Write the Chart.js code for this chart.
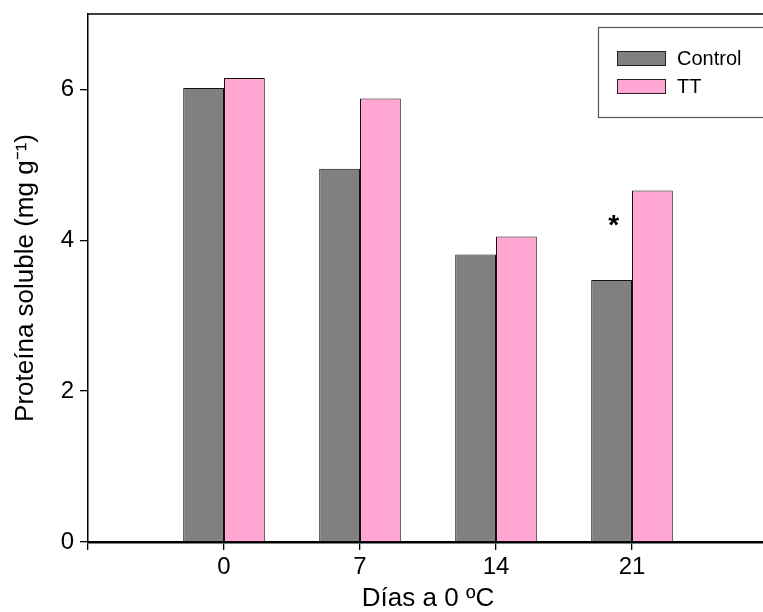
<!DOCTYPE html>
<html>
<head>
<meta charset="utf-8">
<script src="https://cdn.jsdelivr.net/npm/chart.js@4/dist/chart.umd.min.js"></script>
<style>
    html, body { margin: 0; padding: 0; background: #fff; overflow: hidden; }
    #wrap { position: relative; width: 770px; height: 612px; }
</style>
</head>
<body>
<div id="wrap"><canvas id="chart"></canvas></div>
<script>
// days of cold storage and soluble protein per treatment
const dias = [0, 7, 14, 21];
const control = [6.02, 4.95, 3.81, 3.475];
const tt = [6.15, 5.88, 4.05, 4.66];
const signif = ['', '', '', '*'];
const yTicks = [0, 2, 4, 6];
const xTickLabels = ['0', '7', '14', '21'];

const FONT = "'Liberation Sans', Arial, sans-serif";

// frame line on top + legend box + significance marks
const extras = {
    id: 'extras',
    afterDraw(chart) {
        const ctx = chart.ctx;
        const area = chart.chartArea;
        ctx.save();
        ctx.strokeStyle = '#000';
        ctx.lineWidth = 1.5;
        ctx.beginPath();
        ctx.moveTo(area.left, area.top);
        ctx.lineTo(area.right, area.top);
        ctx.lineTo(area.right, area.bottom);
        ctx.stroke();

        // legend
        ctx.strokeStyle = '#555';
        ctx.lineWidth = 1.2;
        ctx.strokeRect(598.5, 27.5, 200, 90);
        chart.data.datasets.forEach((ds, i) => {
            const y = 51 + i * 28;
            ctx.fillStyle = ds.backgroundColor;
            ctx.fillRect(617, y, 49, 15);
            ctx.strokeStyle = '#222';
            ctx.lineWidth = 1;
            ctx.strokeRect(617.5, y + 0.5, 48, 14);
            ctx.fillStyle = '#000';
            ctx.font = '20px ' + FONT;
            ctx.textBaseline = 'middle';
            ctx.textAlign = 'left';
            ctx.fillText(ds.label, 677, y + 8);
        });

        // asterisks over the control bars
        const meta = chart.getDatasetMeta(0);
        ctx.font = 'bold 28px ' + FONT;
        ctx.textAlign = 'center';
        ctx.textBaseline = 'alphabetic';
        signif.forEach((s, i) => {
            if (!s) return;
            const bar = meta.data[i];
            ctx.fillText(s, bar.x + 2, bar.y - 46);
        });
        ctx.restore();
    }
};

new Chart(document.getElementById('chart'), {
    type: 'bar',
    data: {
        datasets: [
            {
                label: 'Control',
                data: dias.map((d, i) => ({ x: d, y: control[i] })),
                backgroundColor: '#808080',
                borderColor: '#111',
                borderWidth: 1
            },
            {
                label: 'TT',
                data: dias.map((d, i) => ({ x: d, y: tt[i] })),
                backgroundColor: '#FFA6D2',
                borderColor: '#111',
                borderWidth: 1
            }
        ]
    },
    options: {
        responsive: true,
        maintainAspectRatio: false,
        animation: false,
        devicePixelRatio: 1,
        categoryPercentage: 0.6,
        barPercentage: 1.0,
        layout: { padding: { top: 14, right: 2, left: 0, bottom: 0 } },
        plugins: {
            legend: { display: false },
            tooltip: { enabled: false }
        },
        scales: {
            x: {
                type: 'linear',
                min: -7,
                max: 28,
                offset: false,
                afterFit: (scale) => {
                    scale.height = 70;
                    scale.paddingLeft = 0;
                    scale.paddingRight = 0;
                },
                ticks: {
                    stepSize: 7,
                    color: '#000',
                    font: { family: FONT, size: 24 },
                    padding: 3,
                    maxRotation: 0,
                    callback: (v) => xTickLabels.includes(String(v)) ? String(v) : ''
                },
                grid: {
                    display: true,
                    offset: false,
                    drawOnChartArea: false,
                    drawTicks: true,
                    tickLength: 8,
                    color: '#000',
                    lineWidth: 1.3
                },
                border: { display: true, color: '#000', width: 2.5 },
                title: {
                    display: true,
                    text: 'Días a 0 ºC',
                    color: '#000',
                    font: { family: FONT, size: 26 },
                    padding: { top: 0, bottom: -2 }
                }
            },
            y: {
                min: 0,
                max: 7,
                afterFit: (scale) => {
                    scale.width = 88;
                    scale.paddingTop = 0;
                    scale.paddingBottom = 0;
                },
                afterBuildTicks: (scale) => {
                    scale.ticks = yTicks.map(v => ({ value: v }));
                },
                ticks: {
                    color: '#000',
                    font: { family: FONT, size: 24 },
                    padding: 6
                },
                grid: {
                    display: true,
                    drawOnChartArea: false,
                    drawTicks: true,
                    tickLength: 8,
                    color: '#000',
                    lineWidth: 1.3
                },
                border: { display: true, color: '#000', width: 1.5 },
                title: {
                    display: true,
                    text: 'Proteína soluble (mg g⁻¹)',
                    color: '#000',
                    font: { family: FONT, size: 26 },
                    padding: { top: 10, bottom: 0 }
                }
            }
        }
    },
    plugins: [extras]
});
</script>
</body>
</html>
